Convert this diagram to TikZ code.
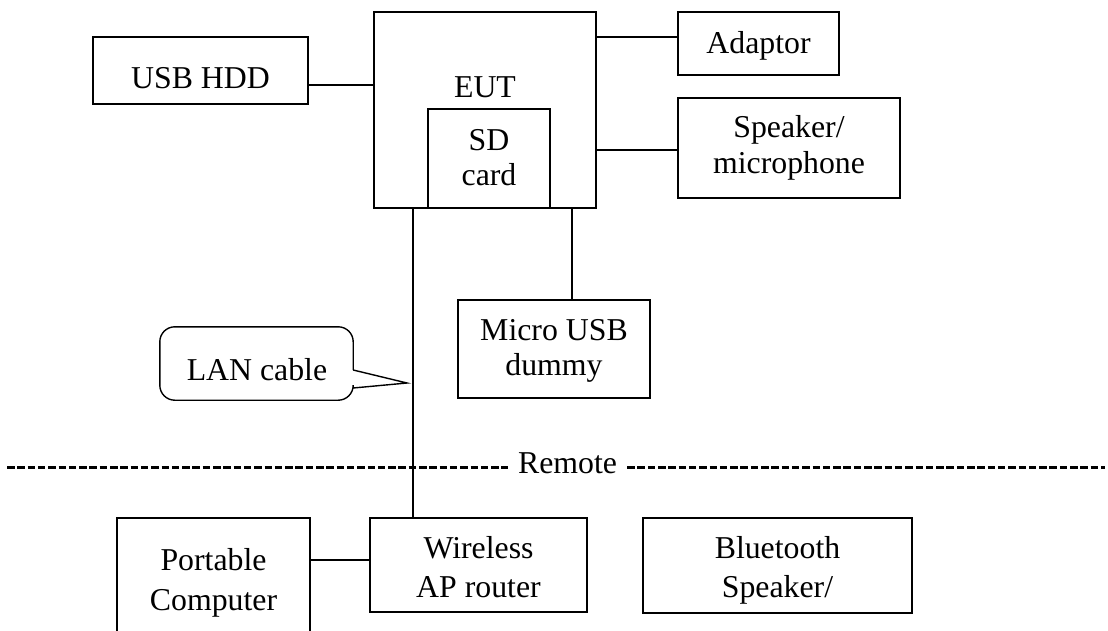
\documentclass[tikz,border=0pt]{standalone}
\usepackage{fontspec}
\setmainfont{Liberation Serif}
\usetikzlibrary{calc}
\tikzset{
  box/.style={draw, line width=1.4pt, inner sep=0pt},
  txt/.style={inner sep=0pt, anchor=base, font=\fontsize{31.8}{38}\selectfont},
  wire/.style={line width=1.4pt},
  sep/.style={line width=2.2pt, dash pattern=on 7.5pt off 2.8pt}
}
\begin{document}
\begin{tikzpicture}[x=1pt, y=-1pt]
\useasboundingbox (0,0) rectangle (1108,630);
\clip (0,0) rectangle (1108,630);
\fill[white] (0,0) rectangle (1108,630);

% boxes
\node[box, minimum width=222, minimum height=196] (eut) at (485,110) {};
\node[box, minimum width=122, minimum height=99] (sd) at (489,158.5) {};
\node[box, minimum width=215, minimum height=67] (usb) at (200.5,70.5) {};
\node[box, minimum width=161, minimum height=63] (adaptor) at (758.5,43.5) {};
\node[box, minimum width=222, minimum height=100] (speaker) at (789,148) {};
\node[box, minimum width=192, minimum height=98] (micro) at (554,349) {};
\node[box, minimum width=193, minimum height=162] (portable) at (213.5,599) {};
\node[box, minimum width=217, minimum height=94] (wireless) at (478.5,565) {};
\node[box, minimum width=269, minimum height=95] (bluetooth) at (777.5,565.5) {};

% texts
\node[txt] (eutt) at (485,97) {EUT};
\node[txt] (sdt1) at (489,150) {SD};
\node[txt] (sdt2) at (489,185) {card};
\node[txt] (usbt) at (200.5,88) {USB HDD};
\node[txt] (adt) at (758.5,53) {Adaptor};
\node[txt] (spt1) at (789,137) {Speaker/};
\node[txt] (spt2) at (789,173) {microphone};
\node[txt] (mit1) at (554,340) {Micro USB};
\node[txt] (mit2) at (554,375) {dummy};
\node[txt] (pct1) at (213.5,570) {Portable};
\node[txt] (pct2) at (213.5,610) {Computer};
\node[txt] (wit1) at (478.5,558) {Wireless};
\node[txt] (wit2) at (478.5,597) {AP router};
\node[txt] (btt1) at (777.5,558) {Bluetooth};
\node[txt] (btt2) at (777.5,597) {Speaker/};

% connectors
\draw[wire] ([yshift=-14.5pt]usb.east) -- ([yshift=25pt]eut.west);
\draw[wire] ([yshift=73pt]eut.east) -- ([yshift=6.5pt]adaptor.west);
\draw[wire] ([yshift=-40pt]eut.east) -- ([yshift=-2pt]speaker.west);
\draw[wire] ([xshift=87pt]eut.south) -- ([xshift=18pt]micro.north);
\draw[wire] ([xshift=-72pt]eut.south) -- ([xshift=-65.5pt]wireless.north);
\draw[wire] ([yshift=39pt]portable.east) -- ([yshift=5pt]wireless.west);

% LAN cable callout
\node[inner sep=0pt, minimum width=193, minimum height=73] (lanbox) at (256.5,363.5) {};
\node[txt] (lant) at (257,380) {LAN cable};
\coordinate (tip) at (407,383);
\draw[wire, rounded corners=15pt] ([yshift=-6.5pt]lanbox.east) -- (lanbox.north east) -- (lanbox.north west) -- (lanbox.south west) -- (lanbox.south east) -- ([yshift=-24.5pt]lanbox.east);
\draw[wire, line join=miter] ([yshift=-6.5pt]lanbox.east) -- (tip) -- ([yshift=-24.5pt]lanbox.east);

% remote separator
\node[txt] (remote) at (567.5,473) {Remote};
\coordinate (dl) at (7,467.5);
\coordinate (dr) at (1105,467.5);
\draw[sep] (dl) -- ([xshift=-10pt]dl -| remote.west);
\draw[sep] ([xshift=10pt]dr -| remote.east) -- (dr);
\end{tikzpicture}
\end{document}
